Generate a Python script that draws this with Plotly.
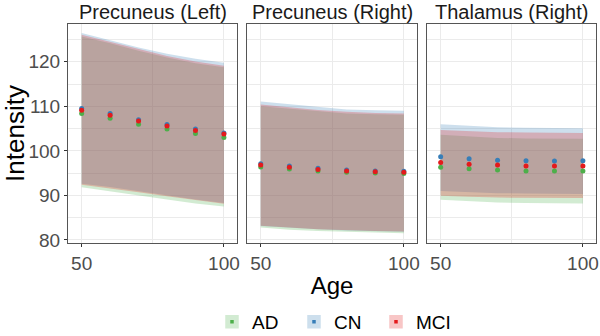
import plotly.graph_objects as go

ages = [50, 60, 70, 80, 90, 100]
panels = ["Precuneus (Left)", "Precuneus (Right)", "Thalamus (Right)"]
groups = ["AD", "CN", "MCI"]

# Precuneus (Left)
pl_AD_mean = [108.4, 107.3, 106.0, 104.9, 103.9, 103.0]
pl_AD_up = [125.7, 124.2, 122.5, 121.0, 119.7, 118.8]
pl_AD_lo = [91.8, 91.0, 90.0, 89.1, 88.2, 87.5]
pl_CN_mean = [109.5, 108.4, 107.0, 105.9, 104.9, 104.0]
pl_CN_up = [126.5, 124.9, 123.2, 121.8, 120.7, 119.8]
pl_CN_lo = [92.6, 91.9, 90.9, 90.0, 89.1, 88.3]
pl_MCI_mean = [109.1, 108.0, 106.7, 105.6, 104.6, 103.8]
pl_MCI_up = [126.1, 124.5, 122.8, 121.3, 120.1, 119.1]
pl_MCI_lo = [92.4, 91.6, 90.7, 89.8, 88.9, 88.1]

# Precuneus (Right)
pr_AD_mean = [96.4, 95.9, 95.5, 95.2, 95.0, 94.9]
pr_AD_up = [110.0, 109.5, 108.9, 108.4, 108.2, 108.1]
pr_AD_lo = [82.8, 82.3, 82.0, 81.8, 81.6, 81.5]
pr_CN_mean = [97.1, 96.6, 96.1, 95.7, 95.5, 95.4]
pr_CN_up = [111.1, 110.5, 109.8, 109.3, 109.1, 109.0]
pr_CN_lo = [83.1, 82.7, 82.4, 82.1, 81.9, 81.8]
pr_MCI_mean = [96.8, 96.3, 95.8, 95.5, 95.3, 95.2]
pr_MCI_up = [110.4, 109.8, 109.2, 108.8, 108.5, 108.4]
pr_MCI_lo = [83.2, 82.8, 82.4, 82.2, 82.0, 81.9]

# Thalamus (Right)
th_AD_mean = [96.3, 96.0, 95.7, 95.5, 95.5, 95.5]
th_AD_up = [103.6, 103.2, 102.9, 102.8, 102.7, 102.7]
th_AD_lo = [89.0, 88.7, 88.4, 88.3, 88.2, 88.2]
th_CN_mean = [98.7, 98.2, 97.9, 97.8, 97.7, 97.8]
th_CN_up = [106.0, 105.6, 105.3, 105.2, 105.1, 105.1]
th_CN_lo = [91.0, 90.7, 90.5, 90.4, 90.3, 90.3]
th_MCI_mean = [97.4, 97.0, 96.8, 96.6, 96.6, 96.6]
th_MCI_up = [104.7, 104.4, 104.2, 104.1, 104.0, 104.0]
th_MCI_lo = [89.9, 89.7, 89.5, 89.4, 89.4, 89.4]

data = {
    0: {"AD": (pl_AD_mean, pl_AD_up, pl_AD_lo), "CN": (pl_CN_mean, pl_CN_up, pl_CN_lo),
        "MCI": (pl_MCI_mean, pl_MCI_up, pl_MCI_lo)},
    1: {"AD": (pr_AD_mean, pr_AD_up, pr_AD_lo), "CN": (pr_CN_mean, pr_CN_up, pr_CN_lo),
        "MCI": (pr_MCI_mean, pr_MCI_up, pr_MCI_lo)},
    2: {"AD": (th_AD_mean, th_AD_up, th_AD_lo), "CN": (th_CN_mean, th_CN_up, th_CN_lo),
        "MCI": (th_MCI_mean, th_MCI_up, th_MCI_lo)},
}

colors = {"AD": (77, 175, 74), "CN": (55, 126, 184), "MCI": (228, 26, 28)}
alpha = 0.25

def rgba(c, a):
    return f"rgba({c[0]},{c[1]},{c[2]},{a})"

def blend(c, a):
    return "rgb(%d,%d,%d)" % tuple(round(255 - a * (255 - v)) for v in c)

W, H = 600, 336
xdoms = [(68, 237), (247, 417), (427, 596)]
ytop, ybot = 24, 243

fig = go.Figure()
FONT = "Liberation Sans, Arial, sans-serif"

for p in range(3):
    xa = "x" if p == 0 else f"x{p+1}"
    ya = "y" if p == 0 else f"y{p+1}"
    for g in groups:
        m, up, lo = data[p][g]
        fig.add_trace(go.Scatter(
            x=ages + ages[::-1], y=up + lo[::-1], fill="toself",
            fillcolor=rgba(colors[g], alpha), line=dict(width=0),
            mode="lines", hoverinfo="skip", showlegend=False,
            xaxis=xa, yaxis=ya))
    for g in groups:
        m, up, lo = data[p][g]
        fig.add_trace(go.Scatter(
            x=ages, y=m, mode="markers",
            marker=dict(color=rgba(colors[g], 1), size=5),
            showlegend=False, name=g, xaxis=xa, yaxis=ya))

# legend entries
for g in groups:
    fig.add_trace(go.Scatter(
        x=[None], y=[None], mode="markers", name=g,
        marker=dict(symbol="square", size=8.5, color=rgba(colors[g], 1),
                    line=dict(width=5, color=blend(colors[g], alpha))),
        showlegend=True))

axis_common = dict(
    showline=True, mirror=True, linecolor="#555555", linewidth=1,
    showgrid=True, gridcolor="#EBEBEB", gridwidth=1,
    ticks="outside", ticklen=3, tickcolor="#333333", tickwidth=1,
    tickfont=dict(family=FONT, size=19, color="#4D4D4D"),
    zeroline=False, automargin=False,
)

layout = dict(
    width=W, height=H, margin=dict(l=0, r=0, t=0, b=0, autoexpand=False),
    plot_bgcolor="white", paper_bgcolor="white",
    font=dict(family=FONT, color="black"),
    showlegend=True,
    legend=dict(orientation="h", x=212 / W, xanchor="left", y=-5 / H, yanchor="bottom",
                font=dict(family=FONT, size=19, color="black"),
                entrywidth=37, entrywidthmode="pixels",
                bgcolor="rgba(0,0,0,0)"),
)

annotations = []
for p in range(3):
    xk = "xaxis" if p == 0 else f"xaxis{p+1}"
    yk = "yaxis" if p == 0 else f"yaxis{p+1}"
    layout[xk] = dict(
        axis_common,
        domain=[xdoms[p][0] / W, xdoms[p][1] / W],
        range=[45.2, 104.6], tickvals=[50, 100],
        minor=dict(tickvals=[75], showgrid=True, gridcolor="#EBEBEB", gridwidth=1, ticks=""),
        anchor="y" if p == 0 else f"y{p+1}",
    )
    layout[yk] = dict(
        axis_common,
        domain=[1 - ybot / H, 1 - ytop / H],
        range=[79.3, 128.5], dtick=10, tick0=80,
        minor=dict(dtick=5, showgrid=True, gridcolor="#EBEBEB", gridwidth=1, ticks=""),
        anchor="x" if p == 0 else f"x{p+1}",
        showticklabels=(p == 0),
        ticks="outside" if p == 0 else "",
    )
    annotations.append(dict(
        text=panels[p], x=(xdoms[p][0] + xdoms[p][1]) / 2 / W, y=1 - 12 / H,
        xref="paper", yref="paper", showarrow=False,
        font=dict(family=FONT, size=20, color="#1A1A1A"), xanchor="center", yanchor="middle"))

layout["xaxis2"]["title"] = dict(text="Age", font=dict(family=FONT, size=24, color="black"), standoff=4)
layout["yaxis"]["title"] = dict(text="Intensity", font=dict(family=FONT, size=26, color="black"), standoff=6)
layout["annotations"] = annotations

fig.update_layout(**layout)
fig.write_html("out.html", config={"displayModeBar": False},
               post_script="document.body.style.margin='0px';")
